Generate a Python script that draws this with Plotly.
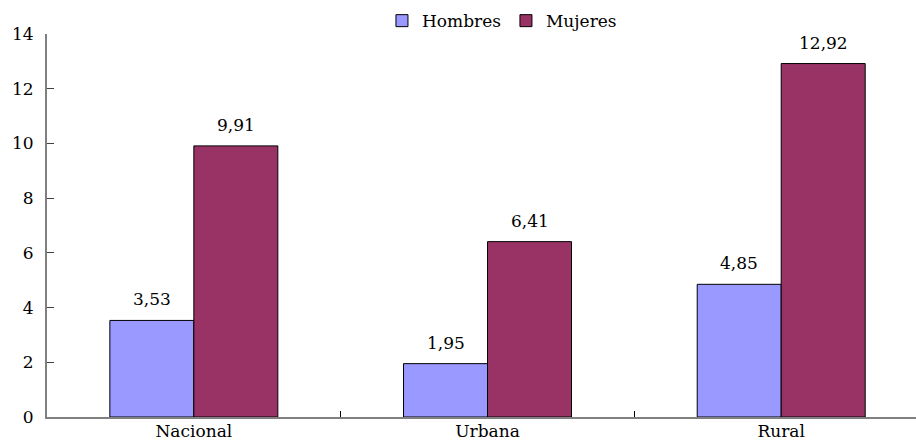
import plotly.graph_objects as go

# Tasa por área y sexo
categorias = ["Nacional", "Urbana", "Rural"]
hombres = [3.53, 1.95, 4.85]
mujeres = [9.91, 6.41, 12.92]
ticks_y = [0, 2, 4, 6, 8, 10, 12, 14]

FONT = "DejaVu Serif"
SIZE = 17
C_HOMBRES = "#9999FF"
C_MUJERES = "#993366"

fig = go.Figure()
fig.add_trace(go.Bar(
    name="Hombres", x=categorias, y=hombres,
    marker=dict(color=C_HOMBRES, line=dict(color="#000000", width=1)),
))
fig.add_trace(go.Bar(
    name="Mujeres", x=categorias, y=mujeres,
    marker=dict(color=C_MUJERES, line=dict(color="#000000", width=1)),
))

def etiqueta(v):
    return f"{v:.2f}".replace(".", ",")

# Value labels above each bar
for serie, off in ((hombres, -0.143), (mujeres, 0.143)):
    for i, v in enumerate(serie):
        fig.add_annotation(
            x=i + off, y=v, xref="x", yref="y", text=etiqueta(v),
            showarrow=False, yanchor="bottom", yshift=9,
            font=dict(family=FONT, size=SIZE, color="#000000"),
        )

fig.update_layout(
    width=916, height=443,
    margin=dict(l=47, r=0, t=34, b=26, autoexpand=False),
    paper_bgcolor="white", plot_bgcolor="white",
    barmode="group", bargap=0.428, bargroupgap=0,
    font=dict(family=FONT, size=SIZE, color="#000000"),
    showlegend=True,
    legend=dict(
        orientation="h", xref="container", yref="container",
        x=0.548, xanchor="center", y=0.993, yanchor="top",
        font=dict(family=FONT, size=SIZE), itemwidth=30,
        bgcolor="rgba(0,0,0,0)",
    ),
)
fig.update_xaxes(
    type="category", range=[-0.5, 2.459],
    showline=True, linecolor="#808080", linewidth=2,
    ticks="inside", tickson="boundaries", ticklen=6, tickcolor="#000000",
    showgrid=False, zeroline=False, ticklabelstandoff=-2,
    tickfont=dict(family=FONT, size=SIZE),
)
fig.update_yaxes(
    range=[0, 14], tickvals=ticks_y,
    showline=True, linecolor="#808080", linewidth=2,
    ticks="inside", ticklen=7, tickcolor="#404040",
    showgrid=False, zeroline=False, ticklabelstandoff=8,
    tickfont=dict(family=FONT, size=SIZE),
)

fig.write_html("out.html")
